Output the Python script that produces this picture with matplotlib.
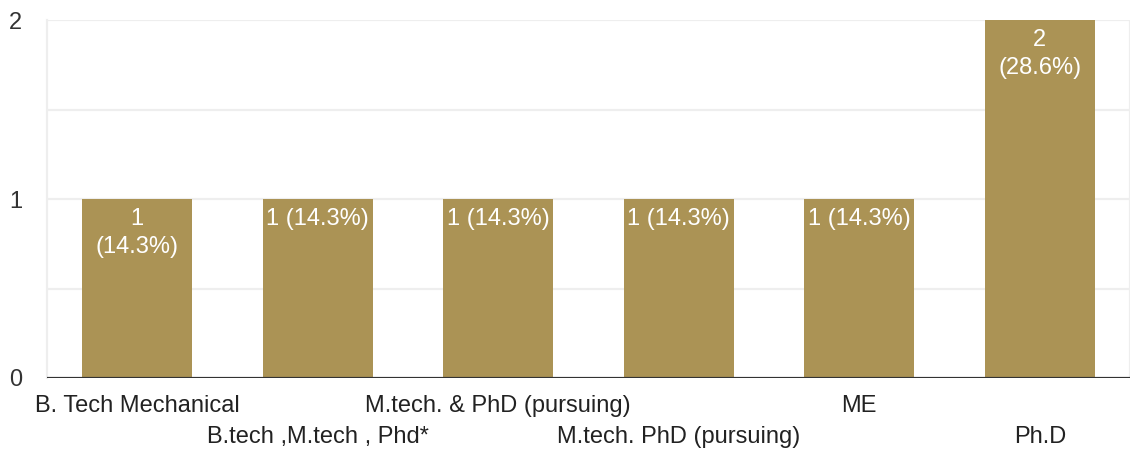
import matplotlib.pyplot as plt

plt.rcParams['font.family'] = ['Liberation Sans', 'DejaVu Sans']

categories = ['B. Tech Mechanical', 'B.tech ,M.tech , Phd*', 'M.tech. & PhD (pursuing)',
              'M.tech. PhD (pursuing)', 'ME', 'Ph.D']
counts = [1, 1, 1, 1, 1, 2]
bar_labels = ['1\n(14.3%)', '1 (14.3%)', '1 (14.3%)', '1 (14.3%)', '1 (14.3%)', '2\n(28.6%)']
yticks = [0, 1, 2]

bar_color = '#AB9355'

fig = plt.figure(figsize=(11.34, 4.55), dpi=100)
ax = fig.add_axes([47 / 1134, 1 - 378 / 455, 1083 / 1134, 358 / 455])

x = list(range(len(categories)))
bars = ax.bar(x, counts, width=0.61, color=bar_color, zorder=3)
ax.set_xlim(-0.5, len(categories) - 0.5)
ax.set_ylim(0, 2)

for b, lab in zip(bars, bar_labels):
    ax.annotate(lab, (b.get_x() + b.get_width() / 2, b.get_height()),
                xytext=(0, -9), textcoords='offset pixels', ha='center', va='top',
                color='white', fontsize=17, linespacing=1.35, zorder=4)

for yv in [0.5, 1, 1.5, 2]:
    ax.axhline(yv, color='#eeeeee', lw=1.6, zorder=1)
ax.axhline(0, color='#333333', lw=2.3, zorder=5)

for side in ['top', 'bottom', 'right']:
    ax.spines[side].set_visible(False)
ax.spines['left'].set_color('#eeeeee')
ax.spines['left'].set_linewidth(1.6)
ax.axvline(len(categories) - 0.5, color='#eeeeee', lw=1.6, zorder=1)

ax.set_yticks(yticks)
ax.set_yticklabels([str(v) for v in yticks])
ax.tick_params(axis='y', length=0, pad=18, labelsize=17, labelcolor='#333333')
ax.set_xticks(x)
ax.set_xticklabels([])
ax.tick_params(axis='x', length=0)

for i, c in enumerate(categories):
    yoff = -28 if i % 2 == 0 else -59
    ax.annotate(c, (i, 0), xytext=(0, yoff), textcoords='offset pixels',
                ha='center', va='center', fontsize=17, color='#222222',
                annotation_clip=False)

fig.savefig('out.png', dpi=100)
